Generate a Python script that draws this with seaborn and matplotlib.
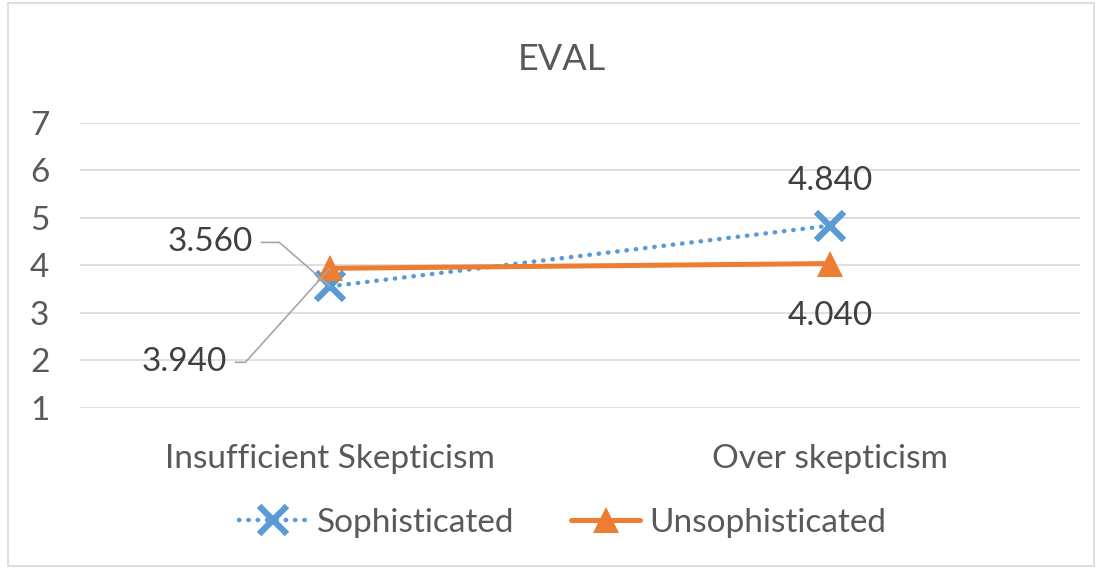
import pandas as pd
import numpy as np
import matplotlib.pyplot as plt
import seaborn as sns
from matplotlib.patches import Rectangle
from matplotlib.lines import Line2D

# ===== Data =====
categories = ["Insufficient Skepticism", "Over skepticism"]
sophisticated = [3.56, 4.84]
unsophisticated = [3.94, 4.04]
series_names = ["Sophisticated", "Unsophisticated"]
y_ticks = [1, 2, 3, 4, 5, 6, 7]

x_pos = list(range(len(categories)))
df_soph = pd.DataFrame({"x": x_pos, "value": sophisticated})
df_unsoph = pd.DataFrame({"x": x_pos, "value": unsophisticated})

# ===== Style =====
sns.set_theme(style="white")
plt.rcParams['font.family'] = ['Lato', 'DejaVu Sans']
text_gray = "#595959"
label_gray = "#404040"
blue = "#5B9BD5"
orange = "#ED7D31"
fs = 24

fig = plt.figure(figsize=(10.97, 5.68), dpi=100)
ax = fig.add_axes([0.0729, 0.2817, 0.9116, 0.5018])

# Outer chart border
fig.patches.append(Rectangle((0.007, 0.004), 0.99, 0.99, transform=fig.transFigure,
                             fill=False, edgecolor="#D9D9D9", linewidth=1.2))

sns.lineplot(data=df_soph, x="x", y="value", color=blue, linewidth=3.2,
             marker="x", markersize=20, markeredgewidth=4.5, markeredgecolor=blue,
             linestyle=(0, (0.1, 2.0)), dash_capstyle="round", ax=ax)
sns.lineplot(data=df_unsoph, x="x", y="value", color=orange, linewidth=3.6,
             marker="^", markersize=19, markeredgewidth=0, ax=ax)

ax.set_xlim(-0.5, 1.5)
ax.set_ylim(1, 7)
ax.set_yticks(y_ticks)
ax.set_xticks(x_pos)
ax.set_xticklabels(categories)
ax.yaxis.grid(True, color="#D9D9D9", linewidth=1.2)
ax.tick_params(axis="both", colors=text_gray, labelsize=fs, length=0)
ax.tick_params(axis="y", pad=22)
ax.tick_params(axis="x", pad=26)
ax.set_xlabel("")
ax.set_ylabel("")
for s in ax.spines.values():
    s.set_visible(False)

fig.text(0.512, 0.895, "EVAL", ha="center", va="center", fontsize=26, color=text_gray)

# ===== Data labels =====
lead = dict(arrowstyle="-", color="#A6A6A6", linewidth=1.2, shrinkA=4, shrinkB=0)
ax.annotate(f"{sophisticated[0]:.3f}", xy=(0, sophisticated[0]), xytext=(-120, 44),
            textcoords="offset pixels", ha="center", va="center", fontsize=fs, color=label_gray,
            arrowprops=dict(lead, connectionstyle="angle,angleA=0,angleB=139,rad=0"))
ax.annotate(f"{unsophisticated[0]:.3f}", xy=(0, unsophisticated[0]), xytext=(-146, -94),
            textcoords="offset pixels", ha="center", va="center", fontsize=fs, color=label_gray,
            arrowprops=dict(lead, connectionstyle="angle,angleA=0,angleB=48,rad=0"))
ax.annotate(f"{sophisticated[1]:.3f}", xy=(1, sophisticated[1]), xytext=(0, 45),
            textcoords="offset pixels", ha="center", va="center", fontsize=fs, color=label_gray)
ax.annotate(f"{unsophisticated[1]:.3f}", xy=(1, unsophisticated[1]), xytext=(0, -52),
            textcoords="offset pixels", ha="center", va="center", fontsize=fs, color=label_gray)

# ===== Legend =====
handles = [
    Line2D([], [], color=blue, linestyle=(0, (0.1, 2.0)), linewidth=3.2, marker="x",
           markersize=20, markeredgewidth=4.5, dash_capstyle="round"),
    Line2D([], [], color=orange, linewidth=3.6, marker="^", markersize=19, markeredgewidth=0),
]
fig.legend(handles, series_names, loc="center", bbox_to_anchor=(0.513, 0.079), ncol=2,
           frameon=False, fontsize=fs, labelcolor=text_gray, handlelength=2.05,
           handletextpad=0.3, columnspacing=1.7)

fig.savefig("out.png", dpi=100)
